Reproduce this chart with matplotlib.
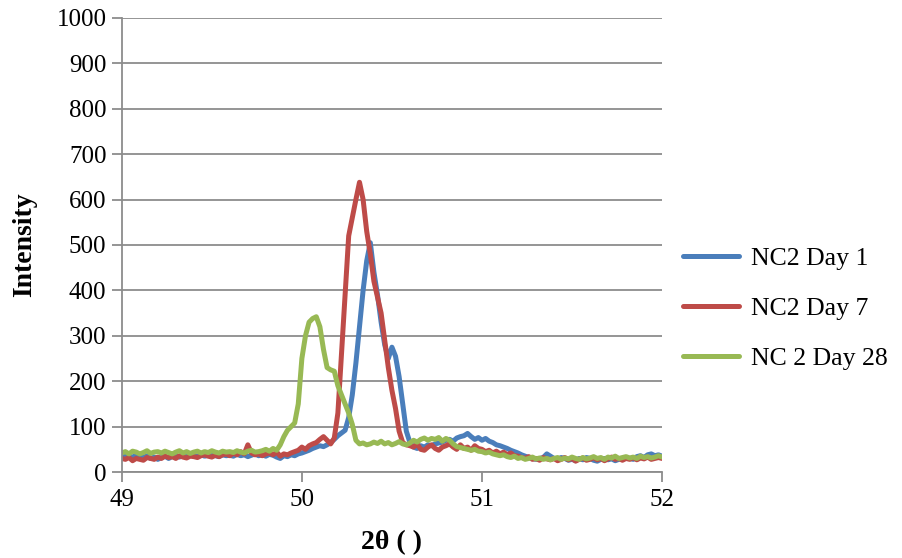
import numpy as np
import matplotlib.pyplot as plt

# 2-theta sample positions (step 0.02 deg)
two_theta = np.round(np.arange(49.0, 52.0001, 0.02), 2)

day1 = [38, 35, 36, 33, 37, 34, 32, 36, 30, 33,
        28, 32, 35, 30, 34, 36, 33, 37, 35, 38,
        36, 34, 38, 35, 37, 39, 36, 34, 38, 36,
        37, 35, 39, 36, 38, 34, 37, 40, 36, 38,
        35, 39, 37, 33, 30, 36, 34, 38, 36, 40,
        42, 45, 48, 52, 55, 58, 56, 60, 65, 72,
        80, 86, 92, 120, 170, 240, 320, 400, 465, 505,
        440, 390, 330, 280, 250, 275, 255, 210, 150, 90,
        65, 55, 52, 58, 55, 60, 58, 62, 64, 66,
        70, 72, 68, 75, 78, 80, 85, 78, 72, 76,
        70, 74, 68, 65, 60, 58, 55, 52, 48, 45,
        42, 38, 35, 32, 30, 28, 30, 32, 40, 35,
        30, 28, 32, 30, 26, 28, 25, 30, 27, 32,
        30, 26, 24, 28, 30, 27, 29, 25, 28, 30,
        32, 30, 28, 34, 36, 32, 38, 40, 36, 38,
        35]

day7 = [30, 28, 32, 25, 30, 28, 26, 32, 30, 28,
        33, 30, 35, 32, 34, 30, 36, 33, 31, 35,
        34, 32, 36, 38, 35, 33, 37, 34, 38, 40,
        36, 42, 38, 45, 40, 60, 42, 38, 40, 36,
        40, 42, 38, 44, 35, 40, 38, 42, 45, 48,
        55, 50, 58, 62, 65, 72, 78, 70, 62, 75,
        130, 260, 390, 520, 560, 600, 638, 600, 530, 480,
        420, 385, 350, 290, 230, 180, 140, 90, 65, 60,
        58, 55, 62, 50, 48, 55, 60, 52, 48, 55,
        58, 62, 55, 50, 60, 52, 55, 48, 58, 52,
        50, 45, 48, 42, 46, 40, 44, 38, 42, 36,
        35, 32, 30, 34, 28, 30, 26, 32, 29, 27,
        30, 25, 28, 32, 27, 30, 24, 28, 31, 26,
        28, 32, 27, 30, 25, 29, 33, 28, 30, 26,
        30, 28, 32, 27, 31, 29, 33, 28, 30, 32,
        30]

day28 = [42, 45, 40, 46, 44, 40, 43, 47, 41, 44,
         45, 42, 46, 43, 40, 44, 47, 42, 45, 41,
         44, 46, 42, 45, 43, 47, 44, 42, 46, 44,
         45, 43, 47, 44, 42, 46, 48, 44, 45, 47,
         50, 46, 52, 48, 60, 78, 92, 100, 108, 150,
         250, 300, 330, 338, 342, 320, 270, 230, 225, 222,
         190, 170, 150, 130, 105, 70, 62, 64, 60, 62,
         66, 63, 68, 62, 65, 60, 63, 67, 62, 60,
         64, 70, 66, 72, 75, 70, 74, 72, 76, 68,
         74, 70, 62, 56, 54, 52, 50, 48, 50, 46,
         45, 42, 44, 40, 38, 36, 38, 34, 32, 35,
         30, 32, 28, 30, 33, 29, 31, 28, 30, 27,
         30, 32, 28, 31, 29, 33, 30, 28, 32, 29,
         31, 34, 30, 32, 28, 33, 31, 35, 30, 32,
         34, 31, 33, 30, 35, 32, 34, 31, 33, 36,
         33]

labels = ['NC2 Day 1', 'NC2 Day 7', 'NC 2 Day 28']
colors = ['#4A7EBB', '#BE4B48', '#98B954']

plt.rcParams['font.family'] = ['Liberation Serif', 'DejaVu Serif']

fig = plt.figure(figsize=(9.02, 5.58), dpi=100)
ax = fig.add_axes([0.135, 0.154, 0.599, 0.814])

for y, lab, c in zip([day1, day7, day28], labels, colors):
    ax.plot(two_theta, y, color=c, lw=3.6, label=lab, solid_capstyle='round')

ax.set_xlim(49, 52)
ax.set_ylim(0, 1000)
ax.set_xticks([49, 50, 51, 52])
ax.set_yticks(range(0, 1001, 100))
ax.yaxis.grid(True, color='#8c8c8c', lw=1.3)
ax.set_axisbelow(True)
for s in ['top', 'right']:
    ax.spines[s].set_visible(False)
for s in ['left', 'bottom']:
    ax.spines[s].set_color('#8c8c8c')
    ax.spines[s].set_linewidth(1.3)
ax.tick_params(axis='both', direction='out', length=7, width=1.3,
               color='#8c8c8c', labelsize=18)
ax.tick_params(axis='y', pad=4)
ax.tick_params(axis='x', pad=5)

ax.set_ylabel('Intensity', fontsize=20, fontweight='bold', labelpad=14)
ax.set_xlabel('2θ ( )', fontsize=20, fontweight='bold', labelpad=14)

ax.legend(loc='center left', bbox_to_anchor=(1.0, 0.36), frameon=False,
          fontsize=18.5, handlelength=2.2, labelspacing=1.05, handletextpad=0.45,
          borderaxespad=0.4)

fig.savefig('out.png', dpi=100)
